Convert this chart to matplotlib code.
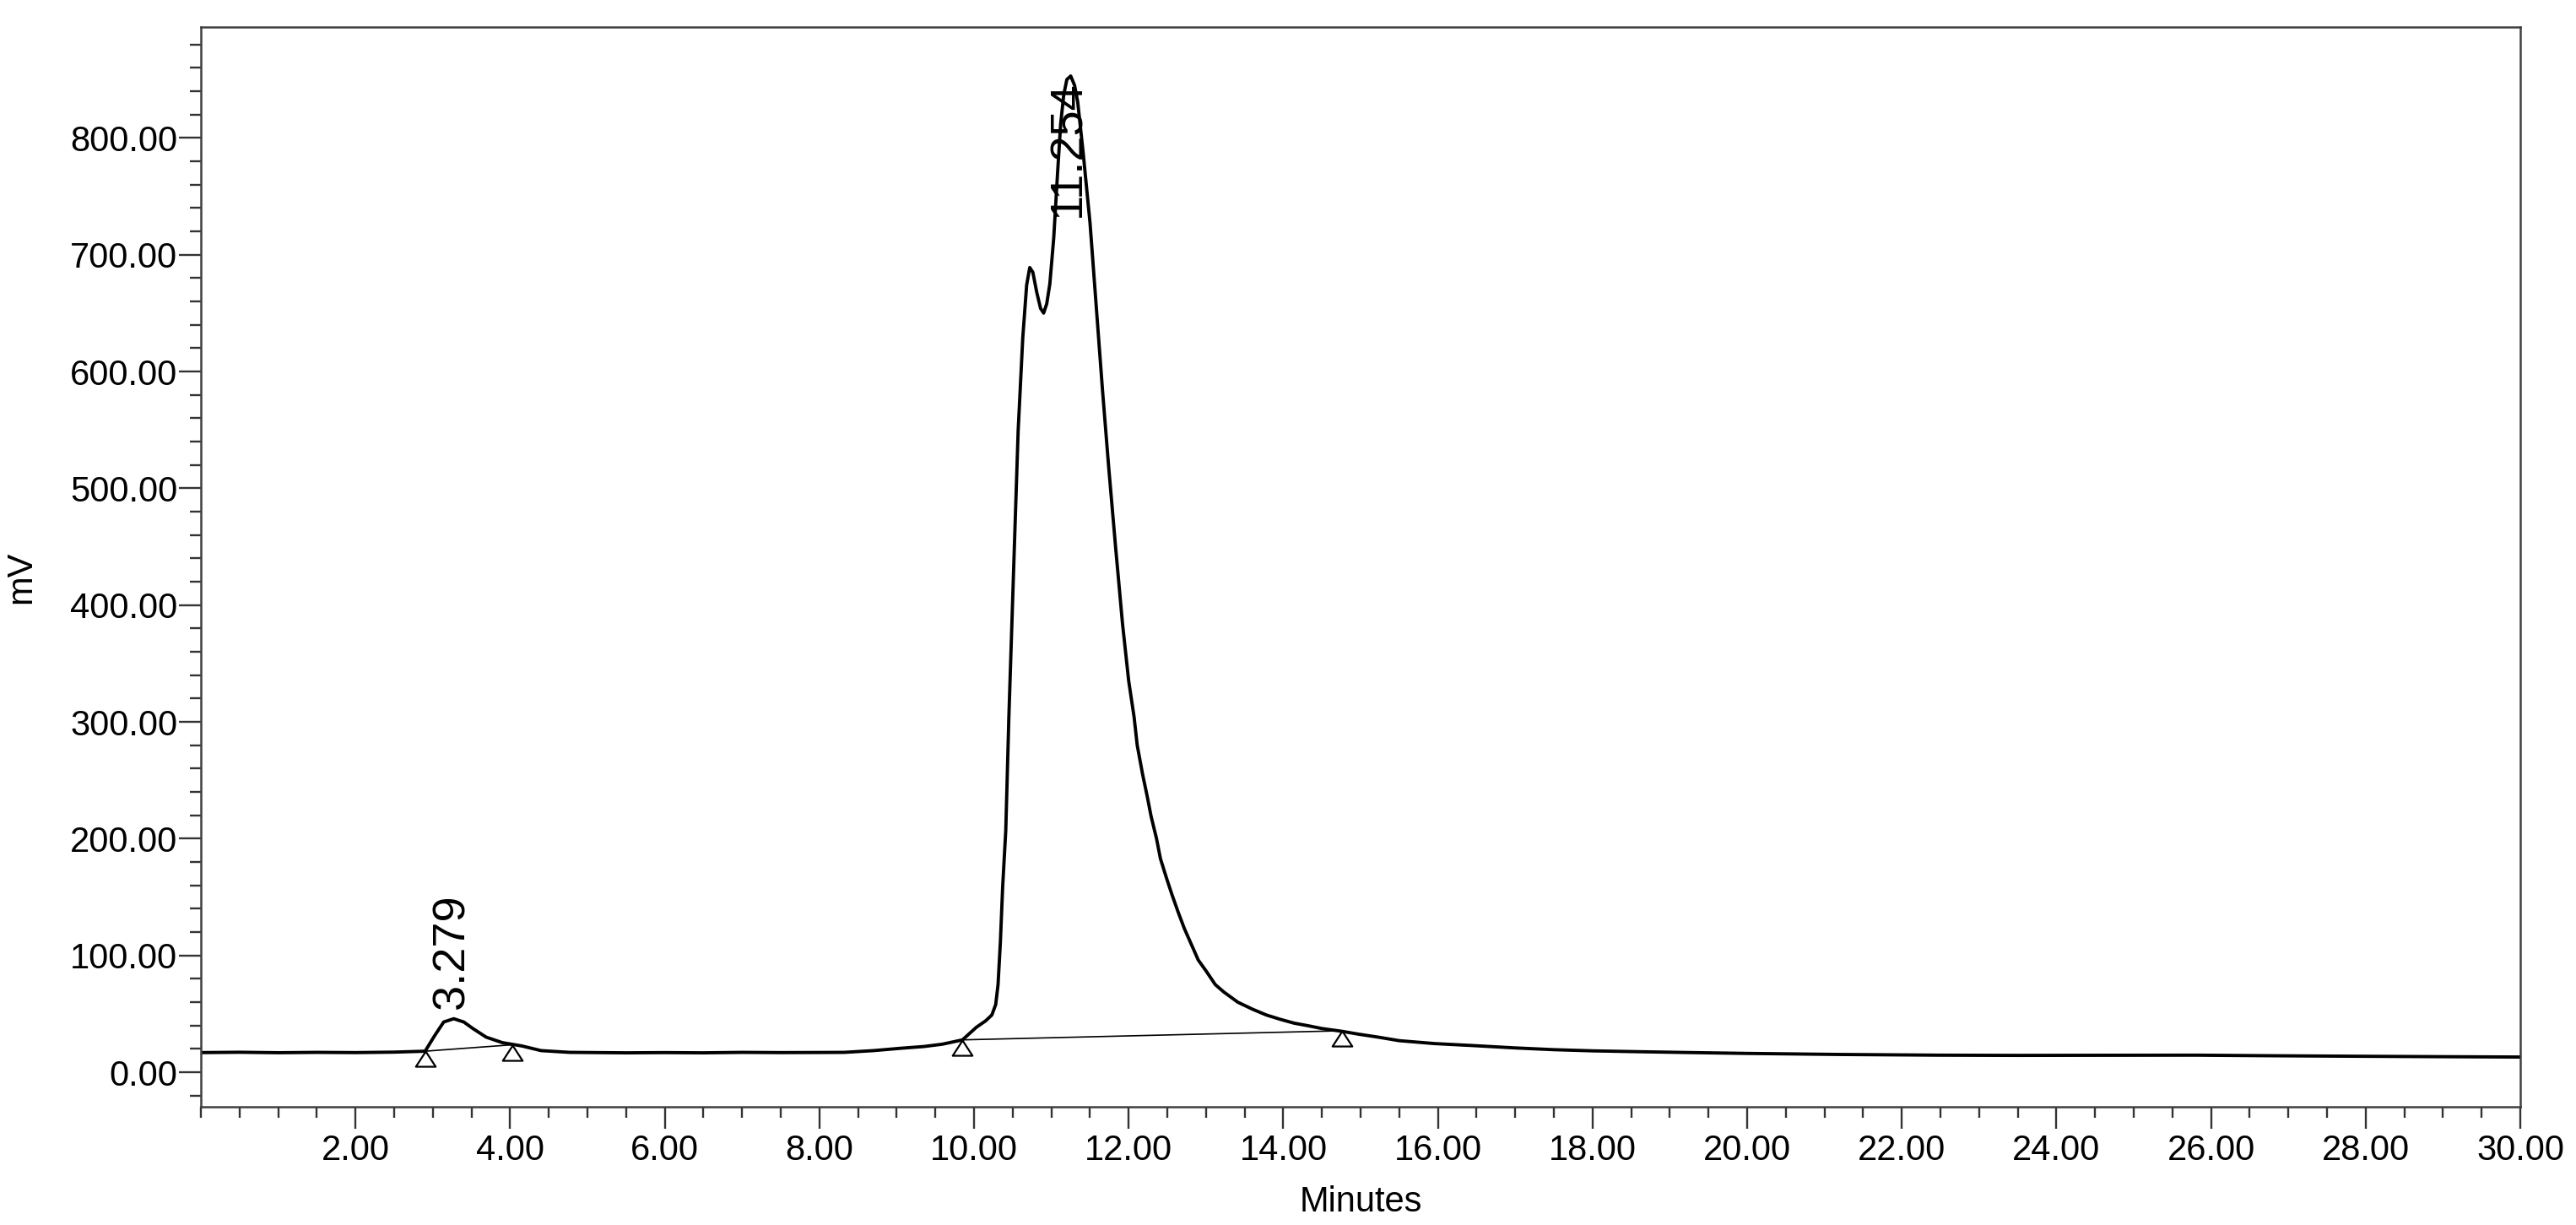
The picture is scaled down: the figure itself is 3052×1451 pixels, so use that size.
import numpy as np
import matplotlib
matplotlib.use("Agg")
import matplotlib.pyplot as plt
from matplotlib.ticker import MultipleLocator, FormatStrFormatter

plt.rcParams['font.family'] = ['Liberation Sans', 'DejaVu Sans']

# trace (minutes, mV)
t = [0.00, 0.50, 1.00, 1.50, 2.00, 2.50, 2.90, 3.02, 3.14, 3.27, 3.40, 3.52,
     3.69, 3.90, 4.15, 4.40, 4.77, 5.50, 6.00, 6.50, 7.00, 7.50, 8.00, 8.32,
     8.70, 9.05, 9.35, 9.59, 9.85, 10.03, 10.15, 10.23, 10.28, 10.31, 10.34,
     10.37, 10.41, 10.45, 10.51, 10.57, 10.63, 10.68, 10.72, 10.76, 10.81,
     10.86, 10.90, 10.94, 10.98, 11.03, 11.08, 11.12, 11.16, 11.20, 11.25,
     11.30, 11.34, 11.41, 11.50, 11.59, 11.66, 11.74, 11.83, 11.92, 12.00,
     12.07, 12.11, 12.18, 12.24, 12.29, 12.36, 12.41, 12.49, 12.56, 12.64,
     12.72, 12.82, 12.90, 13.00, 13.12, 13.23, 13.41, 13.60, 13.78, 13.96,
     14.14, 14.32, 14.50, 14.76, 14.98, 15.23, 15.50, 15.96, 16.43, 17.00,
     17.50, 18.00, 18.57, 19.20, 20.00, 21.20, 22.47, 23.50, 24.50, 25.80,
     26.80, 27.80, 29.00, 30.00]
mv = [16.8, 17.1, 16.7, 17.0, 16.8, 17.2, 18.0, 31.0, 43.0, 45.8, 43.0, 37.3,
      30.0, 25.3, 22.5, 18.5, 17.0, 16.6, 16.8, 16.6, 17.0, 16.8, 16.9, 17.0,
      18.5, 20.5, 22.0, 24.0, 27.7, 38.5, 44.0, 49.0, 58.0, 75.0, 111.0,
      159.0, 207.0, 304.0, 427.0, 549.0, 629.0, 674.0, 689.0, 685.0, 668.0,
      654.0, 650.0, 658.0, 675.0, 714.0, 770.0, 812.0, 837.0, 850.0, 853.0,
      845.0, 831.0, 788.0, 727.0, 647.0, 585.0, 519.0, 450.0, 384.0, 335.0,
      304.0, 280.0, 255.0, 236.0, 219.0, 200.0, 183.0, 166.0, 152.0, 137.0,
      123.0, 108.0, 96.0, 86.8, 75.0, 68.7, 60.0, 54.0, 49.0, 45.3,
      42.0, 39.8, 37.4, 35.0, 32.5, 30.0, 27.0, 24.5, 22.9, 20.8,
      19.3, 18.3, 17.6, 16.9, 16.1, 15.2, 14.6, 14.4, 14.5, 14.6,
      14.1, 13.7, 13.3, 13.0]

# integration baselines: start/end of each peak
base_t = [[2.90, 4.03], [9.85, 14.76]]
base_mv = [[18.0, 23.5], [27.7, 35.5]]

peak_labels = ['3.279', '11.254']

fig = plt.figure(figsize=(30.52, 14.51), dpi=100)
ax = fig.add_axes([0.078, 0.0965, 0.9004, 0.8815])

ax.plot(t, mv, color='black', lw=2.8, solid_joinstyle='round')

# triangle marker with its apex on the point
tri = [(0, 0), (-0.65, -1), (0.65, -1), (0, 0)]
for bt, bm in zip(base_t, base_mv):
    ax.plot(bt, bm, color='black', lw=1.2)
    ax.plot(bt, bm, ls='none', marker=tri, markersize=26,
            mfc='white', mec='black', mew=1.6)

# retention time labels
ax.text(3.25, 54, peak_labels[0], rotation=90, ha='center', va='bottom',
        fontsize=39)
ax.text(11.22, 732, peak_labels[1], rotation=90, ha='center', va='bottom',
        fontsize=39)

ax.set_xlim(0, 30)
ax.set_ylim(-29.6, 895)

ax.set_xticks(np.arange(2, 31, 2))
ax.xaxis.set_minor_locator(MultipleLocator(0.5))
ax.xaxis.set_major_formatter(FormatStrFormatter('%.2f'))
ax.set_yticks(np.arange(0, 801, 100))
ax.yaxis.set_minor_locator(MultipleLocator(20))
ax.yaxis.set_major_formatter(FormatStrFormatter('%.2f'))

ax.tick_params(axis='both', which='major', labelsize=30, color='#333333',
               width=1.7)
ax.tick_params(axis='both', which='minor', color='#333333', width=1.7)
ax.tick_params(axis='x', which='major', length=19, pad=4)
ax.tick_params(axis='x', which='minor', length=9)
ax.tick_params(axis='y', which='major', length=19, pad=1)
ax.tick_params(axis='y', which='minor', length=9.5)

for s in ax.spines.values():
    s.set_color('#404040')
    s.set_linewidth(1.8)

ax.set_xlabel('Minutes', fontsize=30)
ax.set_ylabel('mV', fontsize=30)
ax.xaxis.set_label_coords(0.5, -0.073)
ax.yaxis.set_label_coords(-0.07, 0.49)

fig.savefig('out.png', dpi=100)
